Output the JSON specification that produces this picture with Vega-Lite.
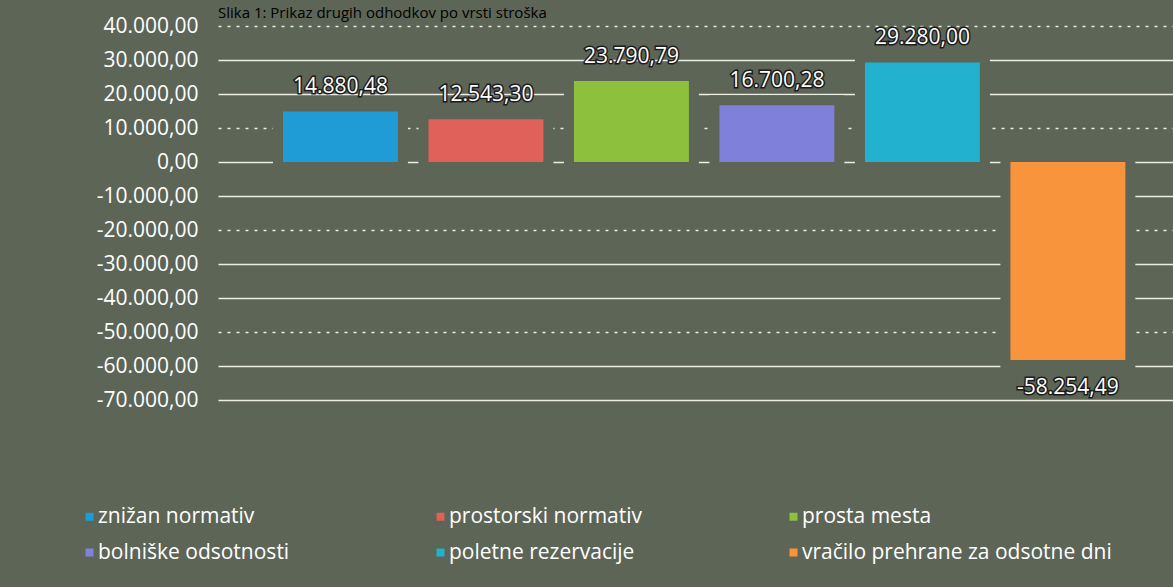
{
  "$schema": "https://vega.github.io/schema/vega-lite/v6.json",
  "autosize": "none",
  "width": 955,
  "height": 374,
  "padding": {"left": 218, "top": 26, "right": 0, "bottom": 187},
  "background": "#5d6557",
  "config": {
    "locale": {"number": {"decimal": ",", "thousands": ".", "grouping": [3], "currency": ["", " €"], "minus": "-"}},
    "view": {"stroke": null},
    "font": "Open Sans"
  },
  "title": {
    "text": "Slika 1: Prikaz drugih odhodkov po vrsti stroška",
    "anchor": "start",
    "frame": "group",
    "offset": -6,
    "fontSize": 15,
    "fontWeight": "normal",
    "color": "#000000",
    "font": "Open Sans"
  },
  "data": {
    "values": [
      {"k": "znižan normativ", "v": 14880.48},
      {"k": "prostorski normativ", "v": 12543.30},
      {"k": "prosta mesta", "v": 23790.79},
      {"k": "bolniške odsotnosti", "v": 16700.28},
      {"k": "poletne rezervacije", "v": 29280.00},
      {"k": "vračilo prehrane za odsotne dni", "v": -58254.49}
    ]
  },
  "encoding": {
    "x": {
      "field": "k", "type": "nominal", "sort": null, "axis": null,
      "scale": {"paddingInner": 0.21, "paddingOuter": 0.387, "align": 0.577}
    },
    "y": {
      "field": "v", "type": "quantitative",
      "scale": {"domain": [-70000, 40000], "nice": false},
      "axis": {
        "title": null,
        "values": [-70000, -60000, -50000, -40000, -30000, -20000, -10000, 0, 10000, 20000, 30000, 40000],
        "format": ",.2f",
        "labelFont": "Open Sans",
        "labelFontSize": 21,
        "labelColor": "#ffffff",
        "labelPadding": 20,
        "ticks": false,
        "domain": false,
        "grid": true,
        "gridColor": "#eceee6",
        "gridWidth": 1.5,
        "gridDash": {"condition": {"test": "indexof([40000, 10000, -20000, -50000], datum.value) >= 0", "value": [3, 6]}, "value": []}
      }
    }
  },
  "layer": [
    {"mark": {"type": "bar", "fill": "#5d6557", "stroke": "#5d6557", "strokeWidth": 20}},
    {
      "mark": {"type": "bar"},
      "encoding": {
        "color": {
          "field": "k", "type": "nominal",
          "scale": {
            "domain": ["znižan normativ", "prostorski normativ", "prosta mesta", "bolniške odsotnosti", "poletne rezervacije", "vračilo prehrane za odsotne dni"],
            "range": ["#1f9bd6", "#e0605a", "#8dc03c", "#7f80d9", "#22b1cf", "#f7943c"]
          },
          "legend": {
            "title": null,
            "orient": "none",
            "legendX": -139,
            "legendY": 480,
            "direction": "horizontal",
            "columns": 3,
            "columnPadding": 140,
            "rowPadding": 14,
            "padding": 0,
            "symbolType": "square",
            "symbolSize": 64,
            "symbolStrokeWidth": 0,
            "labelFont": "Open Sans",
            "labelFontSize": 21,
            "labelColor": "#ffffff",
            "labelOffset": -2,
            "labelLimit": 400
          }
        }
      }
    },
    {
      "transform": [{"filter": "datum.v >= 0"}],
      "layer": [
        {
          "mark": {"type": "text", "dy": -24, "baseline": "middle", "fontSize": 21, "font": "Open Sans", "fill": "#1b1b1b", "stroke": "#1b1b1b", "strokeWidth": 3},
          "encoding": {"text": {"field": "v", "type": "quantitative", "format": ",.2f"}}
        },
        {
          "mark": {"type": "text", "dy": -24, "baseline": "middle", "fontSize": 21, "font": "Open Sans", "fill": "#ffffff"},
          "encoding": {"text": {"field": "v", "type": "quantitative", "format": ",.2f"}}
        }
      ]
    },
    {
      "transform": [{"filter": "datum.v < 0"}],
      "layer": [
        {
          "mark": {"type": "text", "dy": 28, "baseline": "middle", "fontSize": 21, "font": "Open Sans", "fill": "#1b1b1b", "stroke": "#1b1b1b", "strokeWidth": 3},
          "encoding": {"text": {"field": "v", "type": "quantitative", "format": ",.2f"}}
        },
        {
          "mark": {"type": "text", "dy": 28, "baseline": "middle", "fontSize": 21, "font": "Open Sans", "fill": "#ffffff"},
          "encoding": {"text": {"field": "v", "type": "quantitative", "format": ",.2f"}}
        }
      ]
    }
  ]
}
